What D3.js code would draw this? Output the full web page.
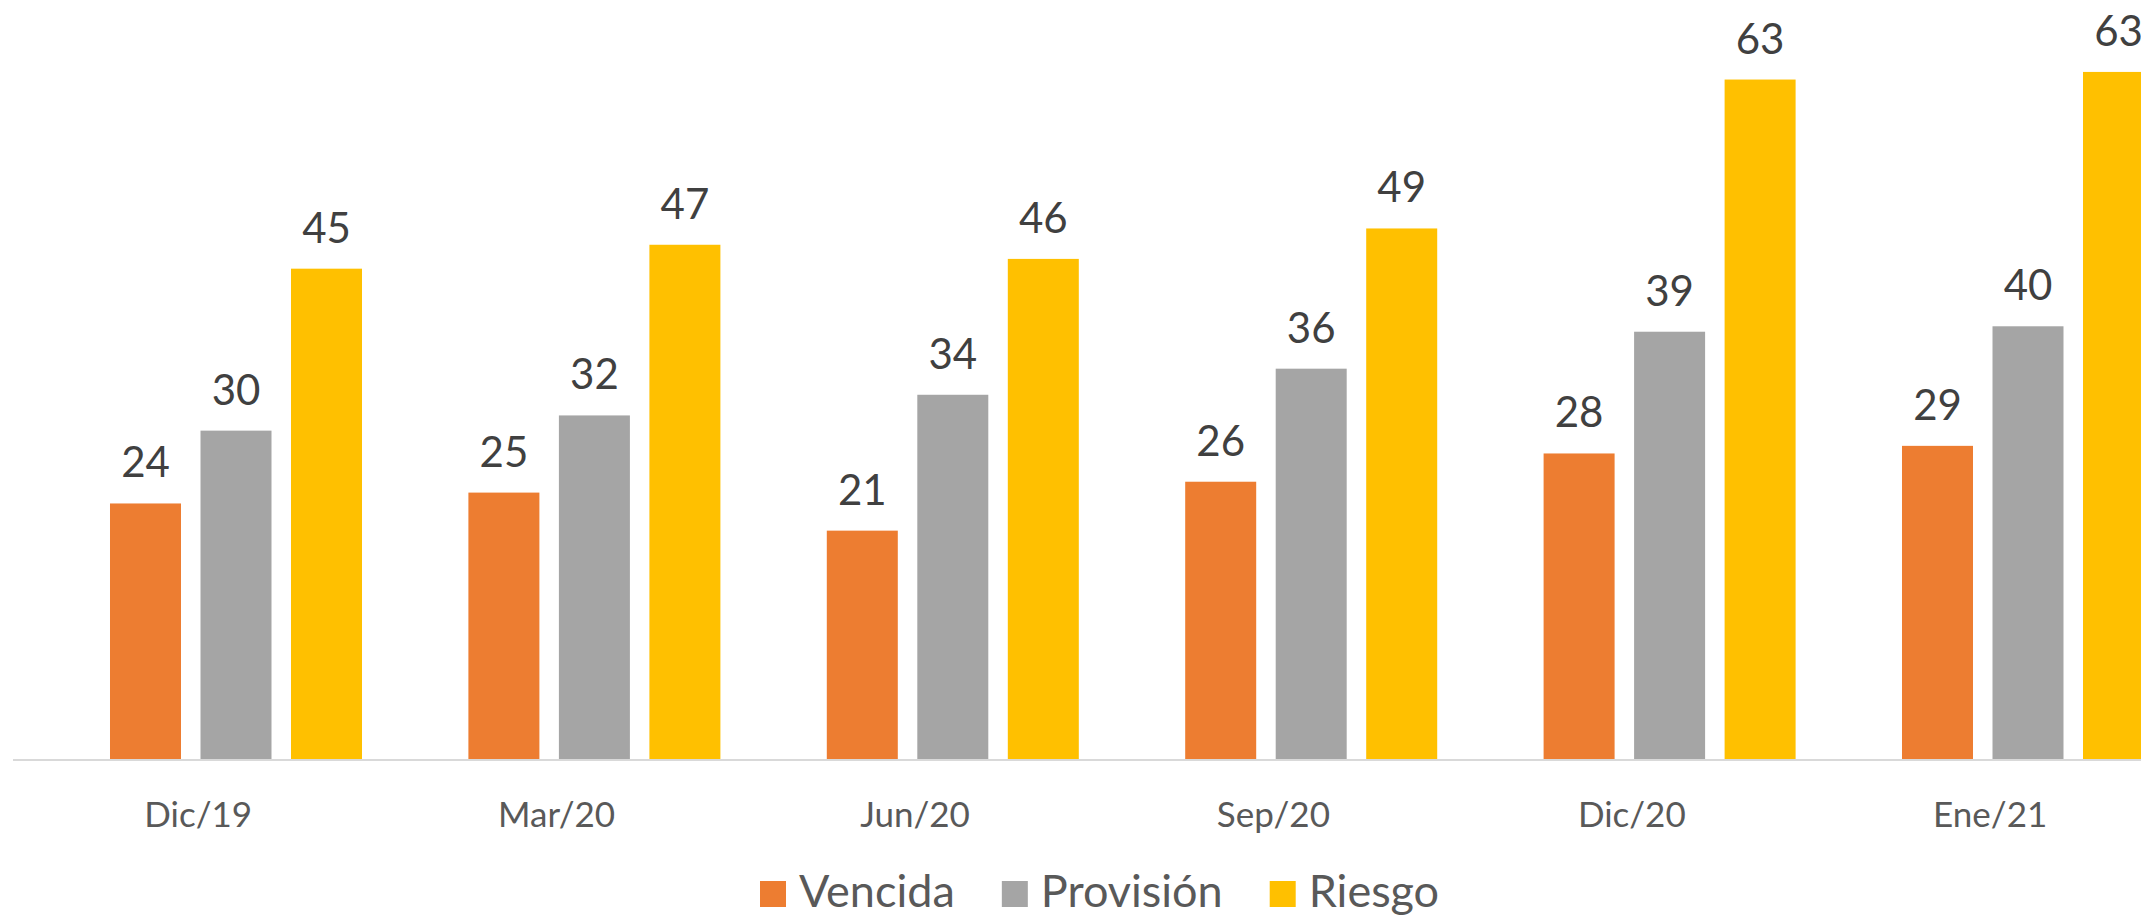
<!DOCTYPE html>
<html>
<head>
<meta charset="utf-8">
<script src="https://cdn.jsdelivr.net/npm/d3@7/dist/d3.min.js"></script>
<style>
  html, body { margin: 0; padding: 0; background: #fff; }
  svg { display: block; }
</style>
</head>
<body>
<svg id="chart" width="2141" height="916"></svg>
<script>
// ---- data ----
const categories = ["Dic/19", "Mar/20", "Jun/20", "Sep/20", "Dic/20", "Ene/21"];
const seriesNames = ["Vencida", "Provisión", "Riesgo"];
const vencida   = [23.6, 24.6, 21.1, 25.6, 28.2, 28.9];
const provision = [30.3, 31.7, 33.6, 36.0, 39.4, 39.9];
const riesgo    = [45.2, 47.4, 46.1, 48.9, 62.6, 63.3];
const seriesColors = ["#ED7D31", "#A5A5A5", "#FFC000"];

const seriesValues = [vencida, provision, riesgo];

// ---- layout ----
const W = 2141, H = 916;
const baseY = 760;
const axisLeft = 13;
const step = 358.4;
const pxPerUnit = 10.87;
const yMax = 70;

const svg = d3.select("#chart");
const font = "Lato, 'Open Sans', sans-serif";

const x0 = d3.scaleBand()
  .domain(categories)
  .range([axisLeft, axisLeft + step * categories.length])
  .paddingInner(0).paddingOuter(0);

const slot = 90.5;
const x1 = d3.scaleBand()
  .domain(seriesNames)
  .range([87.25, 87.25 + slot * seriesNames.length])
  .paddingInner(0.2155)
  .paddingOuter(0.1077);

const y = d3.scaleLinear()
  .domain([0, yMax])
  .range([baseY, baseY - yMax * pxPerUnit]);

const fmt = d3.format(".0f");

// bars
const groups = svg.append("g").selectAll("g")
  .data(categories)
  .join("g")
  .attr("transform", c => `translate(${x0(c)},0)`);

groups.selectAll("rect")
  .data((c, i) => seriesNames.map((s, j) => ({ s, j, v: seriesValues[j][i] })))
  .join("rect")
  .attr("x", d => x1(d.s))
  .attr("width", x1.bandwidth())
  .attr("y", d => y(d.v))
  .attr("height", d => y(0) - y(d.v))
  .attr("fill", d => seriesColors[d.j]);

// value labels
groups.selectAll("text.val")
  .data((c, i) => seriesNames.map((s, j) => ({ s, j, v: seriesValues[j][i] })))
  .join("text")
  .attr("class", "val")
  .attr("x", d => x1(d.s) + x1.bandwidth() / 2)
  .attr("y", d => y(d.v) - 26)
  .attr("text-anchor", "middle")
  .attr("font-family", font)
  .attr("font-size", 42)
  .attr("fill", "#404040")
  .text(d => fmt(d.v));

// x axis
const xAxis = d3.axisBottom(x0).tickSize(0).tickPadding(0);
const axG = svg.append("g")
  .attr("transform", `translate(0,${baseY})`)
  .call(xAxis);
axG.select(".domain").remove();
axG.append("line")
  .attr("x1", axisLeft).attr("x2", W)
  .attr("y1", 0).attr("y2", 0)
  .attr("stroke", "#d9d9d9").attr("stroke-width", 2);
axG.selectAll(".tick text")
  .attr("font-family", font)
  .attr("font-size", 35)
  .attr("fill", "#595959")
  .attr("dy", null)
  .attr("x", 6)
  .attr("y", 67);

// legend
const legend = svg.append("g").attr("transform", `translate(760,907)`);
let lx = 0;
seriesNames.forEach((s, j) => {
  const g = legend.append("g").attr("transform", `translate(${lx},0)`);
  g.append("rect").attr("x", 0).attr("y", -26).attr("width", 26).attr("height", 26)
    .attr("fill", seriesColors[j]);
  const t = g.append("text").attr("x", 39).attr("y", 0)
    .attr("font-family", font).attr("font-size", 45).attr("fill", "#595959")
    .text(s);
  lx += 39 + t.node().getComputedTextLength() + 47;
});
</script>
</body>
</html>
